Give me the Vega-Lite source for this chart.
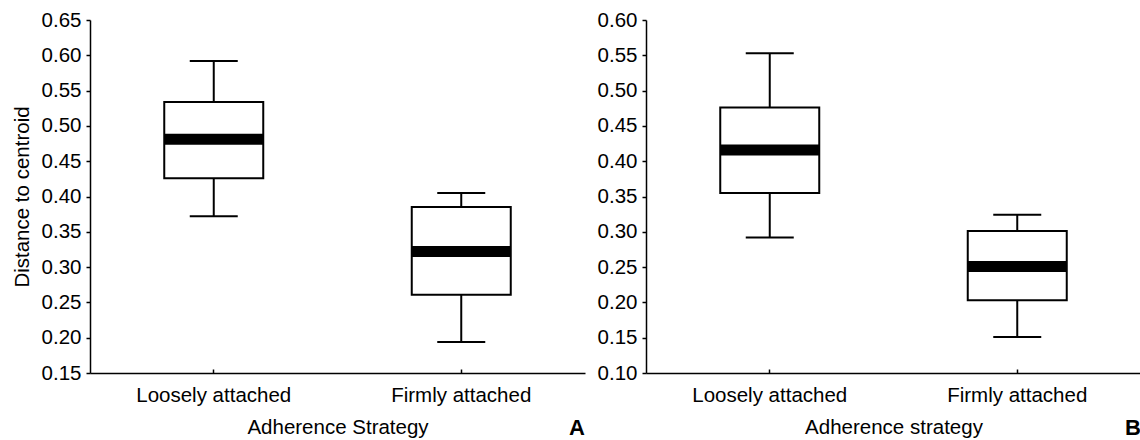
{
  "$schema": "https://vega.github.io/schema/vega-lite/v6.json",
  "padding": {"left": 12, "top": 10, "right": 0, "bottom": 0},
  "background": "white",
  "config": {
    "font": "Liberation Sans",
    "view": {"stroke": null},
    "axis": {"grid": false, "domainColor": "black", "domainWidth": 1.5, "tickColor": "black", "tickWidth": 1.5, "labelColor": "black", "titleColor": "black", "labelFontSize": 20.5, "titleFontSize": 20.5, "titleFontWeight": "normal", "labelFont": "Liberation Sans", "titleFont": "Liberation Sans", "labelOverlap": false}
  },
  "spacing": 12,
  "datasets": {
    "stats": [
      {"panel": "A", "strategy": "Loosely attached", "lower": 0.372, "q1": 0.426, "median": 0.481, "q3": 0.534, "upper": 0.592},
      {"panel": "A", "strategy": "Firmly attached", "lower": 0.194, "q1": 0.261, "median": 0.322, "q3": 0.385, "upper": 0.405},
      {"panel": "B", "strategy": "Loosely attached", "lower": 0.292, "q1": 0.355, "median": 0.416, "q3": 0.476, "upper": 0.553},
      {"panel": "B", "strategy": "Firmly attached", "lower": 0.151, "q1": 0.203, "median": 0.251, "q3": 0.301, "upper": 0.324}
    ]
  },
  "hconcat": [
    {
      "width": 495,
      "height": 353,
      "data": {"name": "stats"},
      "transform": [{"filter": "datum.panel === 'A'"}],
      "title": {"text": "A", "orient": "bottom", "anchor": "end", "fontSize": 22, "fontWeight": "bold", "font": "Liberation Sans", "color": "black", "offset": -20},
      "encoding": {
        "x": {"field": "strategy", "type": "nominal", "sort": ["Loosely attached", "Firmly attached"], "scale": {"type": "band", "paddingInner": 0.6, "paddingOuter": 0.3}, "axis": {"title": "Adherence Strategy", "labelAngle": 0, "tickSize": -4, "labelPadding": 16, "titlePadding": 12}}
      },
      "layer": [
        {"mark": {"type": "rule", "color": "black", "strokeWidth": 2}, "encoding": {"y": {"field": "lower", "type": "quantitative", "scale": {"domain": [0.15, 0.65], "nice": false, "zero": false}, "axis": {"title": "Distance to centroid", "tickCount": 10, "format": ".2f", "labelOverlap": false, "tickSize": 4, "labelPadding": 5, "titlePadding": 9}}, "y2": {"field": "upper"}}},
        {"mark": {"type": "bar", "fill": "white", "stroke": "black", "strokeWidth": 2}, "encoding": {"y": {"field": "q1", "type": "quantitative"}, "y2": {"field": "q3"}}},
        {"mark": {"type": "tick", "color": "black", "size": 99, "thickness": 11, "opacity": 1}, "encoding": {"y": {"field": "median", "type": "quantitative"}}},
        {"mark": {"type": "tick", "color": "black", "size": 48, "thickness": 2, "opacity": 1}, "encoding": {"y": {"field": "upper", "type": "quantitative"}}},
        {"mark": {"type": "tick", "color": "black", "size": 48, "thickness": 2, "opacity": 1}, "encoding": {"y": {"field": "lower", "type": "quantitative"}}}
      ]
    },
    {
      "width": 495,
      "height": 353,
      "data": {"name": "stats"},
      "transform": [{"filter": "datum.panel === 'B'"}],
      "title": {"text": "B", "orient": "bottom", "anchor": "end", "fontSize": 22, "fontWeight": "bold", "font": "Liberation Sans", "color": "black", "offset": -20},
      "encoding": {
        "x": {"field": "strategy", "type": "nominal", "sort": ["Loosely attached", "Firmly attached"], "scale": {"type": "band", "paddingInner": 0.6, "paddingOuter": 0.3}, "axis": {"title": "Adherence strategy", "labelAngle": 0, "tickSize": -4, "labelPadding": 16, "titlePadding": 12}}
      },
      "layer": [
        {"mark": {"type": "rule", "color": "black", "strokeWidth": 2}, "encoding": {"y": {"field": "lower", "type": "quantitative", "scale": {"domain": [0.1, 0.6], "nice": false, "zero": false}, "axis": {"title": null, "tickCount": 10, "format": ".2f", "labelOverlap": false, "tickSize": 4, "labelPadding": 5}}, "y2": {"field": "upper"}}},
        {"mark": {"type": "bar", "fill": "white", "stroke": "black", "strokeWidth": 2}, "encoding": {"y": {"field": "q1", "type": "quantitative"}, "y2": {"field": "q3"}}},
        {"mark": {"type": "tick", "color": "black", "size": 99, "thickness": 11, "opacity": 1}, "encoding": {"y": {"field": "median", "type": "quantitative"}}},
        {"mark": {"type": "tick", "color": "black", "size": 48, "thickness": 2, "opacity": 1}, "encoding": {"y": {"field": "upper", "type": "quantitative"}}},
        {"mark": {"type": "tick", "color": "black", "size": 48, "thickness": 2, "opacity": 1}, "encoding": {"y": {"field": "lower", "type": "quantitative"}}}
      ]
    }
  ]
}
